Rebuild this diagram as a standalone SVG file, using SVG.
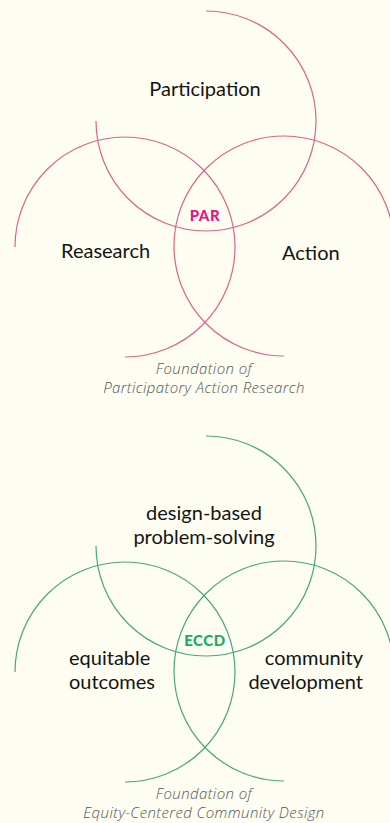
<svg xmlns="http://www.w3.org/2000/svg" width="390" height="823" viewBox="0 0 390 823">
<style>
.bg{fill:#fdfdf2}
.ring{fill:none;stroke-width:1.2}
.pink{stroke:#d6668f}
.green{stroke:#4aa67a}
.lbl{font-family:Lato,"Liberation Sans",sans-serif;font-size:20px;fill:#141414}
.core{font-family:Lato,"Liberation Sans",sans-serif;font-size:15px;font-weight:900;letter-spacing:0.6px}
.cap{font-family:"Open Sans","Liberation Sans",sans-serif;font-size:15px;font-style:italic;font-weight:300;fill:#555;letter-spacing:0.4px}
</style>
<rect class="bg" x="0" y="0" width="390" height="823"/>
<g id="connectors">
</g>
<g id="par">
  <g id="participation">
    <path class="ring pink" d="M206 11 A110 110 0 1 1 96 121"/>
    <text class="lbl" x="205" y="96" text-anchor="middle">Participation</text>
  </g>
  <g id="research">
    <path class="ring pink" d="M15 247 A110 110 0 1 1 125 357"/>
    <text class="lbl" x="61" y="258">Reasearch</text>
  </g>
  <g id="action">
    <path class="ring pink" d="M284 356 A110 110 0 1 1 394 246"/>
    <text class="lbl" x="282" y="260">Action</text>
  </g>
  <g id="par-core">
    <text class="core" x="205" y="221" text-anchor="middle" fill="#e3187f">PAR</text>
  </g>
  <g id="par-caption">
    <text class="cap" x="204" y="374" text-anchor="middle">Foundation of</text>
    <text class="cap" x="204" y="393" text-anchor="middle">Participatory Action Research</text>
  </g>
</g>
<g id="eccd">
  <g id="design">
    <path class="ring green" d="M206 436 A110 110 0 1 1 96 546"/>
    <text class="lbl" x="204" y="520" text-anchor="middle">design-based</text>
    <text class="lbl" x="204" y="544" text-anchor="middle">problem-solving</text>
  </g>
  <g id="outcomes">
    <path class="ring green" d="M15 672 A110 110 0 1 1 125 782"/>
    <text class="lbl" x="69" y="665">equitable</text>
    <text class="lbl" x="69" y="689">outcomes</text>
  </g>
  <g id="community">
    <path class="ring green" d="M284 781 A110 110 0 1 1 394 671"/>
    <text class="lbl" x="363" y="665" text-anchor="end">community</text>
    <text class="lbl" x="363" y="689" text-anchor="end">development</text>
  </g>
  <g id="eccd-core">
    <text class="core" x="205" y="646" text-anchor="middle" fill="#1fa862">ECCD</text>
  </g>
  <g id="eccd-caption">
    <text class="cap" x="204" y="799" text-anchor="middle">Foundation of</text>
    <text class="cap" x="204" y="818" text-anchor="middle">Equity-Centered Community Design</text>
  </g>
</g>
</svg>
